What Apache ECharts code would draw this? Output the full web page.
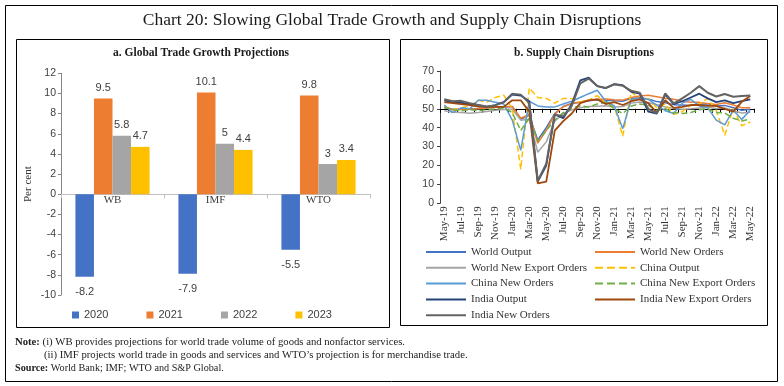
<!DOCTYPE html>
<html><head><meta charset="utf-8">
<script src="https://cdn.jsdelivr.net/npm/echarts@6/dist/echarts.min.js"></script>
<style>html,body{margin:0;padding:0;background:#fff}#c{width:784px;height:386px}</style>
</head><body><div id="c"></div>
<script>
// ---- Panel a data ----
const barCategories = ['WB', 'IMF', 'WTO'];
const barYears = ['2020', '2021', '2022', '2023'];
const bars2020 = [-8.2, -7.9, -5.5];
const bars2021 = [9.5, 10.1, 9.8];
const bars2022 = [5.8, 5, 3];
const bars2023 = [4.7, 4.4, 3.4];
const barTicks = { min: -10, max: 12, interval: 2 };

// ---- Panel b data ----
const months = ['May-19','Jun-19','Jul-19','Aug-19','Sep-19','Oct-19','Nov-19','Dec-19',
  'Jan-20','Feb-20','Mar-20','Apr-20','May-20','Jun-20','Jul-20','Aug-20','Sep-20','Oct-20','Nov-20','Dec-20',
  'Jan-21','Feb-21','Mar-21','Apr-21','May-21','Jun-21','Jul-21','Aug-21','Sep-21','Oct-21','Nov-21','Dec-21',
  'Jan-22','Feb-22','Mar-22','Apr-22','May-22'];
const worldOutput = [50.5,49.8,49.9,50.0,50.2,50.5,50.8,50.9,51.2,44.5,46.5,33.5,40.0,47.5,51.2,52.8,53.5,54.3,54.8,54.5,54.2,54.0,55.5,55.8,55.2,53.8,53.2,52.2,52.0,51.8,52.4,52.6,51.5,51.8,50.6,49.2,49.8];
const worldNewOrders = [50.8,49.5,49.6,49.8,50.0,50.4,50.8,51.0,51.2,45.0,47.0,31.8,38.5,47.2,51.0,52.8,53.6,54.5,55.0,55.2,54.8,54.6,56.0,56.8,57.2,56.4,55.6,55.0,54.0,53.5,53.4,52.8,52.3,53.2,52.0,50.6,50.6];
const worldNewExportOrders = [49.0,48.2,48.0,47.6,48.0,48.6,49.2,49.6,49.8,44.0,44.5,27.0,32.5,43.5,47.5,49.5,50.6,51.2,51.4,51.6,51.0,51.2,53.0,53.6,53.2,52.2,51.0,50.2,49.8,50.0,50.4,50.8,50.2,50.4,49.0,47.8,48.2];
const chinaOutput = [51.0,49.5,50.5,51.5,54.5,53.5,56.0,57.2,50.0,18.0,61.0,56.0,55.5,53.0,55.5,55.4,53.5,54.6,57.0,53.2,51.5,35.5,59.0,55.0,55.5,50.5,52.5,47.0,48.5,52.0,52.5,55.5,49.0,36.0,50.0,41.0,43.0];
const chinaNewOrders = [52.0,48.0,50.5,50.0,54.5,54.5,53.5,52.5,44.0,28.0,54.0,51.5,51.0,51.0,52.5,54.0,56.0,58.0,59.8,54.0,51.5,39.5,55.0,55.5,55.0,52.0,49.0,47.5,53.0,55.0,51.5,50.5,44.0,41.5,49.4,44.4,49.2];
const chinaNewExportOrders = [51.0,49.5,49.0,49.5,49.0,49.5,50.0,50.5,48.0,38.5,45.0,33.0,38.5,44.0,48.0,50.5,51.5,51.0,52.5,53.5,50.0,47.5,51.5,52.5,52.0,49.0,50.0,48.0,47.5,48.0,49.5,50.0,48.0,47.8,45.0,43.6,44.5];
const indiaOutput = [54.5,53.5,53.2,52.5,52.0,51.0,52.0,53.5,57.5,57.0,54.0,11.5,20.0,47.0,45.0,52.5,65.0,66.5,62.0,61.0,63.0,62.5,59.0,58.0,48.5,47.5,57.5,52.5,54.0,56.0,58.0,55.5,53.5,54.5,53.0,54.0,55.0];
const indiaNewExportOrders = [53.5,53.0,52.5,52.0,51.2,51.0,51.0,51.0,54.5,54.5,48.5,10.5,11.5,38.5,43.5,47.5,53.0,54.5,55.0,52.5,53.5,52.0,54.0,55.0,53.0,48.0,54.5,50.5,51.0,52.0,52.0,51.5,51.5,50.0,48.5,53.7,56.8];
const indiaNewOrders = [55.0,54.0,54.2,53.0,52.0,51.2,51.8,53.5,58.0,57.5,53.0,12.0,21.0,47.0,46.0,51.5,63.5,66.0,62.0,61.0,63.0,62.2,59.5,58.5,50.0,47.6,58.2,52.9,55.5,58.5,62.0,58.5,56.5,57.8,56.4,56.8,57.0];
const lineTicks = { min: 0, max: 70, interval: 10 };

const serif = '"Liberation Serif", "DejaVu Serif", serif';
const sans = '"Liberation Sans", Arial, sans-serif';

const lineDefs = [
  ['World Output', worldOutput, '#4472C4', 'solid', 1.5],
  ['World New Orders', worldNewOrders, '#ED7D31', 'solid', 1.5],
  ['World New Export Orders', worldNewExportOrders, '#A5A5A5', 'solid', 1.5],
  ['China Output', chinaOutput, '#FFC000', 'dashed', 1.5],
  ['China New Orders', chinaNewOrders, '#5B9BD5', 'solid', 1.5],
  ['China New Export Orders', chinaNewExportOrders, '#70AD47', 'dashed', 1.5],
  ['India Output', indiaOutput, '#264478', 'solid', 1.8],
  ['India New Export Orders', indiaNewExportOrders, '#9E480E', 'solid', 1.8],
  ['India New Orders', indiaNewOrders, '#636363', 'solid', 2]
];

const barColors = ['#4472C4', '#ED7D31', '#A5A5A5', '#FFC000'];
const barData = [bars2020, bars2021, bars2022, bars2023];

const series = [];
barYears.forEach((y, i) => {
  series.push({
    name: y, type: 'bar', xAxisIndex: 0, yAxisIndex: 0,
    data: barData[i], barGap: '0%', barCategoryGap: '28%',
    itemStyle: { color: barColors[i] },
    label: { show: true, position: i === 0 ? 'bottom' : 'top', distance: i === 0 ? 10 : 5,
      fontFamily: sans, fontSize: 11, color: '#404040' }
  });
});
lineDefs.forEach(d => {
  series.push({
    name: d[0], type: 'line', xAxisIndex: 1, yAxisIndex: 1, data: d[1],
    symbol: 'none', color: d[2],
    lineStyle: { color: d[2], type: d[3], width: d[4] }
  });
});

const chart = echarts.init(document.getElementById('c'), null, { renderer: 'canvas' });
chart.setOption({
  animation: false,
  backgroundColor: '#fff',
  grid: [
    { left: 61, top: 73.3, width: 309, height: 221.7 },
    { left: 440, top: 71, width: 314.5, height: 132.3 }
  ],
  xAxis: [
    { gridIndex: 0, type: 'category', data: barCategories, position: 'bottom', offset: -100.7,
      axisLine: { onZero: false, lineStyle: { color: '#bfbfbf' } },
      axisTick: { show: true, length: 4, lineStyle: { color: '#bfbfbf' } },
      axisLabel: { color: '#404040', fontFamily: serif, fontSize: 11, margin: 0 } },
    { gridIndex: 1, type: 'category', data: months, position: 'bottom', boundaryGap: true,
      axisLine: { show: false, onZero: false }, axisTick: { show: false },
      axisLabel: { rotate: 90, interval: 1, fontFamily: serif, fontSize: 11, color: '#333', margin: 3 } },
    { gridIndex: 1, type: 'category', data: months, position: 'top', offset: -37.8, boundaryGap: true,
      axisLine: { show: true, onZero: false, lineStyle: { color: '#000', width: 1 } },
      axisTick: { show: true, inside: true, interval: 0, length: 4, lineStyle: { color: '#000' } },
      axisLabel: { show: false } }
  ],
  yAxis: [
    { gridIndex: 0, type: 'value', min: barTicks.min, max: barTicks.max, interval: barTicks.interval,
      name: 'Per cent', nameLocation: 'middle', nameGap: 27,
      nameTextStyle: { fontFamily: serif, fontSize: 11, color: '#333' },
      axisLine: { show: true, lineStyle: { color: '#868686' } },
      axisTick: { show: true, length: 3, lineStyle: { color: '#868686' } },
      splitLine: { show: false },
      axisLabel: { fontFamily: sans, fontSize: 10.5, color: '#404040', margin: 5 } },
    { gridIndex: 1, type: 'value', min: lineTicks.min, max: lineTicks.max, interval: lineTicks.interval,
      axisLine: { show: true, lineStyle: { color: '#404040' } },
      axisTick: { show: true, length: 3, lineStyle: { color: '#404040' } },
      splitLine: { show: false },
      axisLabel: { fontFamily: sans, fontSize: 10.5, color: '#404040', margin: 6 } }
  ],
  legend: [
    { data: barYears, left: 72, top: 309.5, padding: 0, orient: 'horizontal', icon: 'rect',
      itemWidth: 7, itemHeight: 7, itemGap: 38, textStyle: { fontFamily: sans, fontSize: 11, color: '#404040' } },
    { data: ['World Output', 'World New Export Orders', 'China New Orders', 'India Output', 'India New Orders'],
      left: 425, top: 246.4, padding: 0, orient: 'vertical', itemWidth: 40, itemHeight: 14, itemGap: 4.6,
      itemStyle: { opacity: 0, borderWidth: 0 },
      textStyle: { fontFamily: serif, fontSize: 11, color: '#333' } },
    { data: ['World New Orders', 'China Output', 'China New Export Orders', 'India New Export Orders'],
      left: 594, top: 246.4, padding: 0, orient: 'vertical', itemWidth: 40, itemHeight: 14, itemGap: 4.6,
      itemStyle: { opacity: 0, borderWidth: 0 },
      textStyle: { fontFamily: serif, fontSize: 11, color: '#333' } }
  ],
  graphic: [
    { type: 'rect', silent: true, shape: { x: 5.5, y: 5.5, width: 772, height: 376 }, style: { fill: 'none', stroke: '#000', lineWidth: 1 } },
    { type: 'rect', silent: true, shape: { x: 16.5, y: 39.5, width: 373, height: 288 }, style: { fill: 'none', stroke: '#000', lineWidth: 1 } },
    { type: 'rect', silent: true, shape: { x: 400.5, y: 39.5, width: 367, height: 286 }, style: { fill: 'none', stroke: '#000', lineWidth: 1 } },
    { type: 'text', silent: true, style: { x: 392, y: 20, text: 'Chart 20: Slowing Global Trade Growth and Supply Chain Disruptions',
      font: '17.5px ' + serif, textAlign: 'center', textVerticalAlign: 'middle', align: 'center', verticalAlign: 'middle', fill: '#1a1a1a' } },
    { type: 'text', silent: true, style: { x: 201, y: 53, text: 'a. Global Trade Growth Projections',
      font: 'bold 11.5px ' + serif, textAlign: 'center', textVerticalAlign: 'middle', align: 'center', verticalAlign: 'middle', fill: '#1a1a1a' } },
    { type: 'text', silent: true, style: { x: 584, y: 53, text: 'b. Supply Chain Disruptions',
      font: 'bold 11.5px ' + serif, textAlign: 'center', textVerticalAlign: 'middle', align: 'center', verticalAlign: 'middle', fill: '#1a1a1a' } },
    { type: 'text', silent: true, style: { x: 15, y: 342, text: '{b|Note:} (i) WB provides projections for world trade volume of goods and nonfactor services.',
      font: '10.7px ' + serif, fill: '#222', textVerticalAlign: 'middle', verticalAlign: 'middle',
      rich: { b: { fontWeight: 'bold', fontFamily: serif, fontSize: 10.7, fill: '#222' } } } },
    { type: 'text', silent: true, style: { x: 44, y: 355, text: '(ii) IMF projects world trade in goods and services and WTO\u2019s projection is for merchandise trade.',
      font: '10.7px ' + serif, fill: '#222', textVerticalAlign: 'middle', verticalAlign: 'middle' } },
    { type: 'text', silent: true, style: { x: 15, y: 368, text: '{b|Source:} World Bank; IMF; WTO and S&P Global.',
      font: '10.2px ' + serif, fill: '#222', textVerticalAlign: 'middle', verticalAlign: 'middle',
      rich: { b: { fontWeight: 'bold', fontFamily: serif, fontSize: 10.2, fill: '#222' } } } }
  ],
  series: series
});
</script>
</body></html>
